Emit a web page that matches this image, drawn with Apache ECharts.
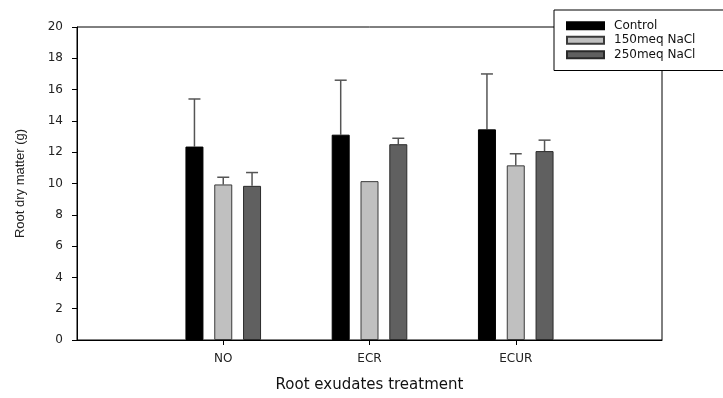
<!DOCTYPE html>
<html>
<head>
<meta charset="utf-8">
<script src="https://cdn.jsdelivr.net/npm/echarts@6/dist/echarts.min.js"></script>
<style>
  html, body { margin: 0; padding: 0; background: #fff; overflow: hidden; }
  #chart { width: 723px; height: 398px; }
</style>
</head>
<body>
<div id="chart"></div>
<script>
// root dry matter (g) per treatment
const categories = ['NO', 'ECR', 'ECUR'];
const seriesNames = ['Control', '150meq NaCl', '250meq NaCl'];
const controlVals = [12.36, 13.12, 13.46];
const salt150Vals = [9.94, 10.15, 11.16];
const salt250Vals = [9.85, 12.51, 12.07];
// upper end of error bars
const controlErr = [15.40, 16.60, 17.00];
const salt150Err = [10.40, null, 11.90];
const salt250Err = [10.70, 12.89, 12.77];
const yTicks = [0, 2, 4, 6, 8, 10, 12, 14, 16, 18, 20];

const chart = echarts.init(document.getElementById('chart'));

// axis padded with one empty slot each side so the groups sit on ticks
const axisCats = [''].concat(categories, ['']);
const pad = arr => ['-'].concat(arr, ['-']);

const barW = 18;
const offsets = [-28.8, 0, 28.8];
const fills = ['#000000', '#c0c0c0', '#606060'];
const borders = ['#000000', '#3a3a3a', '#2a2a2a'];
const vals = [controlVals, salt150Vals, salt250Vals];
const errs = [controlErr, salt150Err, salt250Err];

const barSeries = vals.map((v, i) => ({
    name: seriesNames[i],
    type: 'bar',
    data: pad(v),
    barWidth: barW,
    barGap: '60%',
    itemStyle: { color: fills[i], borderColor: borders[i], borderWidth: 1 },
    z: 2
}));

const errSeries = errs.map((e, i) => ({
    type: 'custom',
    silent: true,
    z: 1,
    data: e.map((top, k) => top == null ? null : [k + 1, vals[i][k], top]).filter(d => d),
    renderItem: (params, api) => {
        const base = api.coord([api.value(0), api.value(1)]);
        const top = api.coord([api.value(0), api.value(2)]);
        const x = base[0] + offsets[i];
        const style = { stroke: '#555', lineWidth: 1.5 };
        return {
            type: 'group',
            children: [
                { type: 'line', shape: { x1: x, y1: base[1], x2: x, y2: top[1] }, style },
                { type: 'line', shape: { x1: x - 6, y1: top[1], x2: x + 6, y2: top[1] }, style }
            ]
        };
    }
}));

const option = {
    animation: false,
    backgroundColor: '#fff',
    grid: {
        left: 77, width: 585, top: 27, height: 317,
        show: true, borderColor: '#000', borderWidth: 1
    },
    legend: {
        data: seriesNames,
        orient: 'vertical',
        left: 554, top: 10,
        padding: [9, 80, 9, 12],
        itemWidth: 37, itemHeight: 7,
        itemGap: 1,
        icon: 'rect',
        backgroundColor: '#fff',
        borderColor: '#000', borderWidth: 1,
        textStyle: { fontFamily: 'DejaVu Sans', fontSize: 12, color: '#111', lineHeight: 13.5, padding: [0, 0, 0, 5] },
        z: 10
    },
    xAxis: {
        type: 'category',
        data: axisCats,
        boundaryGap: false,
        name: 'Root exudates treatment',
        nameLocation: 'middle',
        nameGap: 38,
        nameTextStyle: { fontFamily: 'DejaVu Sans', fontSize: 15, color: '#111' },
        axisLine: { lineStyle: { color: '#000', width: 1 } },
        axisTick: { length: 5, interval: (idx) => idx > 0 && idx < axisCats.length - 1, lineStyle: { color: '#000' } },
        axisLabel: { interval: 0, margin: 13, fontFamily: 'DejaVu Sans', fontSize: 12, color: '#222' },
        splitLine: { show: false }
    },
    yAxis: {
        type: 'value',
        min: yTicks[0],
        max: yTicks[yTicks.length - 1],
        interval: yTicks[1] - yTicks[0],
        name: 'Root dry matter (g)',
        nameLocation: 'middle',
        nameGap: 50,
        nameTextStyle: { fontFamily: 'Liberation Sans', fontSize: 13, color: '#222' },
        axisLine: { show: true, lineStyle: { color: '#000', width: 1 } },
        axisTick: { show: true, length: 5, lineStyle: { color: '#000' } },
        axisLabel: { margin: 14, fontFamily: 'DejaVu Sans', fontSize: 12, color: '#222' },
        splitLine: { show: false }
    },
    series: barSeries.concat(errSeries)
};

chart.setOption(option);
</script>
</body>
</html>
